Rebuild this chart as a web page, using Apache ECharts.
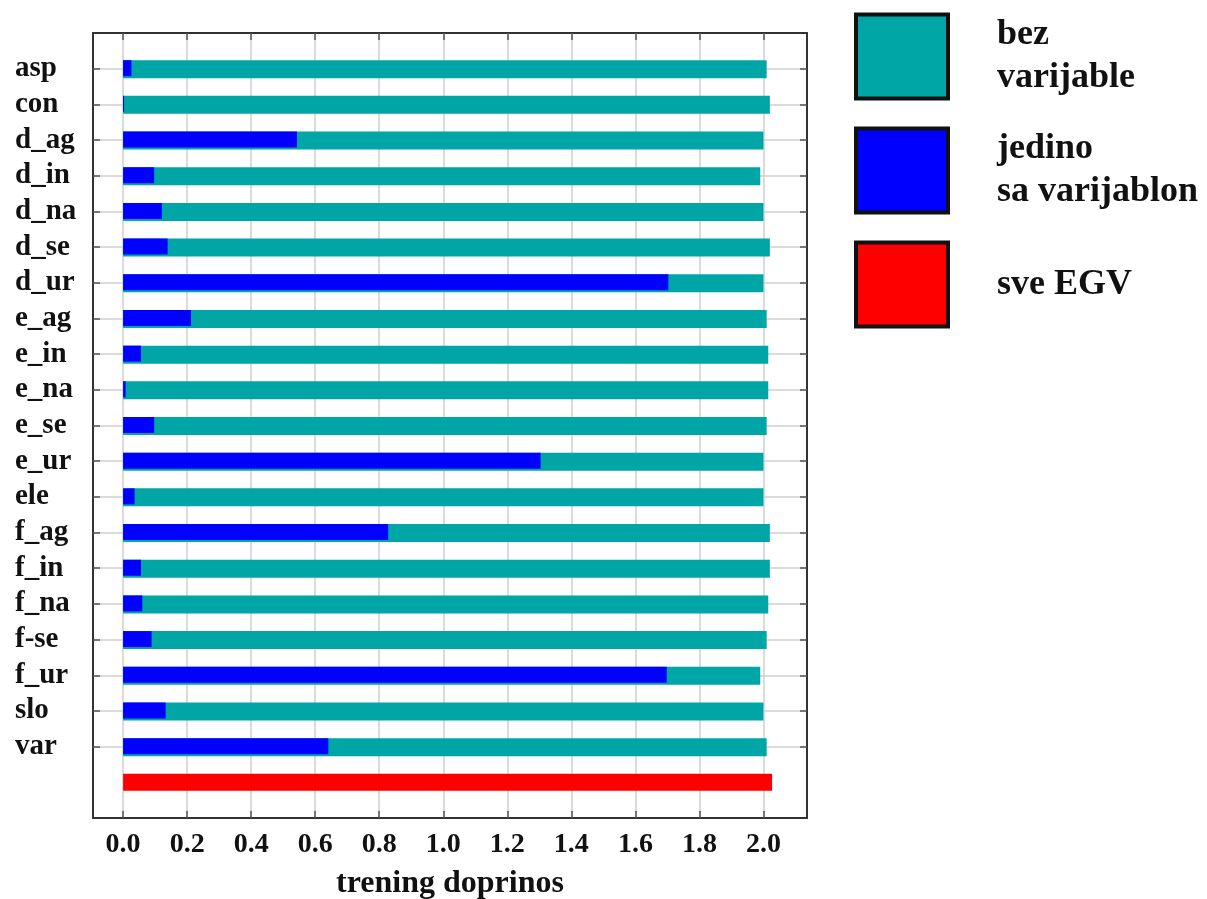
<!DOCTYPE html>
<html>
<head>
<meta charset="utf-8">
<script src="https://cdn.jsdelivr.net/npm/echarts@6/dist/echarts.min.js"></script>
<style>
html,body{margin:0;padding:0;background:#fff;}
#c{width:1207px;height:899px;}
</style>
</head>
<body>
<div id="c"></div>
<script>
// ---- data ----
const categories = ['asp','con','d_ag','d_in','d_na','d_se','d_ur','e_ag','e_in','e_na','e_se','e_ur','ele','f_ag','f_in','f_na','f-se','f_ur','slo','var'];
const bezVarijable = [2.01, 2.02, 2.00, 1.99, 2.00, 2.02, 2.00, 2.01, 2.015, 2.015, 2.01, 2.00, 2.00, 2.02, 2.02, 2.015, 2.01, 1.99, 2.00, 2.01];
const jedinoSaVarijablom = [0.026, 0.003, 0.543, 0.097, 0.121, 0.139, 1.703, 0.212, 0.056, 0.008, 0.097, 1.304, 0.036, 0.828, 0.056, 0.060, 0.089, 1.698, 0.133, 0.641];
const sveEGV = 2.027;
const xTicks = [0.0, 0.2, 0.4, 0.6, 0.8, 1.0, 1.2, 1.4, 1.6, 1.8, 2.0];
const seriesNames = ['bez\nvarijable', 'jedino\nsa varijablon', 'sve EGV'];

// ---- build padded category list: empty slot above, row for all-EGV bar, empty slot below ----
const yCats = [''].concat(categories, ['', '']);
const nCat = categories.length;
const pad = arr => ['-'].concat(arr, ['-', '-']);
const redData = yCats.map((c, i) => (i === nCat + 1 ? sveEGV : '-'));
const isVarRow = idx => idx >= 1 && idx <= nCat;

const FONT = '"Liberation Serif", "Times New Roman", serif';
const frame = { show: true, onZero: false, lineStyle: { color: '#333', width: 2 } };
const tickStyle = { color: '#555', width: 1.5 };

const legendBase = {
  orient: 'vertical',
  left: 854,
  padding: 0,
  itemWidth: 92,
  itemHeight: 84,
  icon: 'rect',
  selectedMode: false,
  itemStyle: { borderColor: '#111', borderWidth: 4 },
  textStyle: { fontFamily: FONT, fontWeight: 'bold', fontSize: 36, lineHeight: 43, color: '#111', padding: [18, 0, 0, 44] }
};
const legendTops = [4.5, 118.5, 240.5];

const chart = echarts.init(document.getElementById('c'), null, { renderer: 'canvas' });
chart.setOption({
  backgroundColor: '#ffffff',
  animation: false,
  grid: { left: 93, right: 400, top: 33, bottom: 81, containLabel: false, outerBoundsMode: 'none' },
  legend: seriesNames.map((n, i) => Object.assign({}, legendBase, { top: legendTops[i], data: [n] })),
  xAxis: [{
    type: 'value',
    position: 'bottom',
    min: -0.094,
    max: 2.136,
    name: 'trening doprinos',
    nameLocation: 'middle',
    nameGap: 50,
    nameTextStyle: { fontFamily: FONT, fontWeight: 'bold', fontSize: 32, color: '#111' },
    axisLine: frame,
    axisTick: { show: true, inside: true, length: 7, lineStyle: tickStyle, customValues: xTicks },
    axisLabel: { show: true, margin: 13, customValues: xTicks, formatter: v => v.toFixed(1), fontFamily: FONT, fontWeight: 'bold', fontSize: 28, color: '#111' },
    splitLine: { show: true, lineStyle: { color: '#cfcfcf', width: 1.5 } }
  }, {
    type: 'value',
    position: 'top',
    min: -0.094,
    max: 2.136,
    axisLine: frame,
    axisTick: { show: true, inside: true, length: 7, lineStyle: tickStyle, customValues: xTicks },
    axisLabel: { show: false },
    splitLine: { show: false }
  }],
  yAxis: [{
    type: 'category',
    position: 'left',
    inverse: true,
    boundaryGap: false,
    data: yCats,
    axisLine: frame,
    axisTick: { show: true, inside: true, length: 7, lineStyle: tickStyle, interval: isVarRow },
    axisLabel: { show: true, interval: 0, align: 'left', margin: 78, padding: [8, 0, 0, 0], fontFamily: FONT, fontWeight: 'bold', fontSize: 29, color: '#111' },
    splitLine: { show: true, interval: isVarRow, lineStyle: { color: '#cfcfcf', width: 1.5 } }
  }, {
    type: 'category',
    position: 'right',
    inverse: true,
    boundaryGap: false,
    data: yCats,
    axisLine: frame,
    axisTick: { show: true, inside: true, length: 7, lineStyle: tickStyle, interval: isVarRow },
    axisLabel: { show: false },
    splitLine: { show: false }
  }],
  series: [{
    name: seriesNames[0],
    type: 'bar',
    xAxisIndex: 0, yAxisIndex: 0,
    barWidth: 18,
    barGap: '-100%',
    itemStyle: { color: '#00a5a5' },
    data: pad(bezVarijable)
  }, {
    name: seriesNames[1],
    type: 'bar',
    xAxisIndex: 0, yAxisIndex: 0,
    barWidth: 16,
    barGap: '-100%',
    itemStyle: { color: '#0000ff' },
    data: pad(jedinoSaVarijablom)
  }, {
    name: seriesNames[2],
    type: 'bar',
    xAxisIndex: 0, yAxisIndex: 0,
    barWidth: 17,
    barGap: '-100%',
    itemStyle: { color: '#ff0000' },
    data: redData
  }]
});
</script>
</body>
</html>
